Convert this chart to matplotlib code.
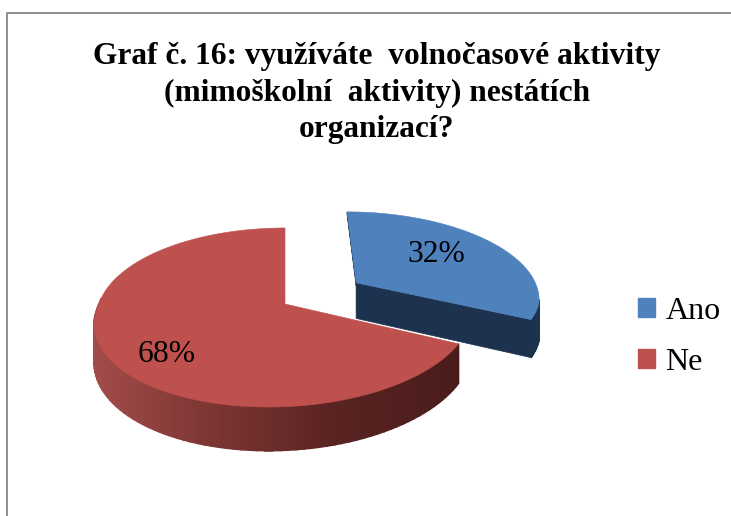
import numpy as np
import matplotlib
matplotlib.use("Agg")
import matplotlib.pyplot as plt
from matplotlib.patches import Patch
from matplotlib.colors import to_rgb

categories = ["Ano", "Ne"]
values = [32, 68]
title = "Graf č. 16: využíváte  volnočasové aktivity\n(mimoškolní  aktivity) nestátích\norganizací?"

plt.rcParams["font.family"] = ["Liberation Serif", "DejaVu Serif"]

W, H = 731, 516
CX, CY = 285.0, 304.0
A, B, SHEAR, PERSP = 87.5, 186.0, 14.0, 0.151
WALL = 37.0
EXPLODE = 0.47
BLUE, NAVY, RED = "#4F81BD", "#1D324F", "#BE504D"
WALL_STOPS_X = [92, 200, 330, 460]
WALL_STOPS_C = ["#A34C4A", "#7F3735", "#5A2422", "#4A1C1A"]


def project(u, v):
    """Oblique perspective view of the unit-circle pie plane, in pixels."""
    u, v = np.asarray(u, float), np.asarray(v, float)
    d = 1 + PERSP * v
    return CX + (B * u + SHEAR * np.minimum(v, 0)) / d, CY - A * v / d


def wall_drop(v):
    return WALL / (1 + PERSP * np.asarray(v, float))


def wall_color(x):
    rgb = np.array([to_rgb(c) for c in WALL_STOPS_C])
    return tuple(np.interp(x, WALL_STOPS_X, rgb[:, i]) for i in range(3))


fig = plt.figure(figsize=(W / 100, H / 100), dpi=100)
ax = fig.add_axes([0, 0, 1, 1])
ax.set_xlim(0, W)
ax.set_ylim(H, 0)
ax.axis("off")

# chart frame (runs off the picture on the right and at the bottom)
ax.plot([7, 7, W + 5], [H + 5, 13, 13], color="#868686", lw=1.3, clip_on=False)

# wedge angles, clockwise from 12 o'clock
edges = np.concatenate([[0], np.cumsum(values)]) / np.sum(values) * 2 * np.pi
colors = [BLUE, RED]

for i, (t0, t1) in enumerate(zip(edges[:-1], edges[1:])):
    theta = np.linspace(t0, t1, 120)
    mid = (t0 + t1) / 2
    is_blue = categories[i] == "Ano"
    ou, ov = (EXPLODE * np.sin(mid), EXPLODE * np.cos(mid)) if is_blue else (0.0, 0.0)
    u, v = ou + np.sin(theta), ov + np.cos(theta)
    x, y = project(u, v)
    px, py = project(ou, ov)
    drop = wall_drop(v)

    # outer side wall
    for k in range(len(theta) - 1):
        if v[k] > 0.05:
            continue
        c = NAVY if is_blue else wall_color((x[k] + x[k + 1]) / 2)
        ax.fill([x[k], x[k + 1], x[k + 1], x[k]],
                [y[k], y[k + 1], y[k + 1] + drop[k + 1], y[k] + drop[k]],
                facecolor=c, edgecolor=c, lw=1.2,
                zorder=2 + i * 0.1 - (1 if is_blue else 0))

    # cut face of the exploded slice
    if is_blue:
        dp = wall_drop(ov)
        ax.fill([px, x[-1], x[-1], px], [py, y[-1], y[-1] + drop[-1], py + dp],
                color=NAVY, lw=0.5, zorder=1.5)
        ax.fill([px, x[0], x[0], px], [py, y[0], y[0] + 3, py + 3],
                color=NAVY, lw=0.5, zorder=1.4)

    # top surface
    zo = 2.5 if is_blue else 3
    ax.fill(np.r_[px, x], np.r_[py, y], color=colors[i], lw=0.4, zorder=zo)

# percent labels
ax.text(436, 255, f"{values[0]}%", fontsize=22.8, ha="center", va="center", zorder=5)
ax.text(167, 354, f"{values[1]}%", fontsize=22.8, ha="center", va="center", zorder=5)

# title
ax.text(377, 93, title, fontsize=22.6, fontweight="bold", ha="center", va="center",
        linespacing=1.345, zorder=5)

# legend
handles = [Patch(color=c, label=l) for c, l in zip(colors, categories)]
ax.legend(handles=handles, loc="center left", bbox_to_anchor=(638, 337),
          bbox_transform=ax.transData, frameon=False, fontsize=23, borderpad=0,
          borderaxespad=0, handlelength=0.53, handleheight=0.53,
          handletextpad=0.33, labelspacing=0.68)

fig.savefig("out.png", dpi=100)
